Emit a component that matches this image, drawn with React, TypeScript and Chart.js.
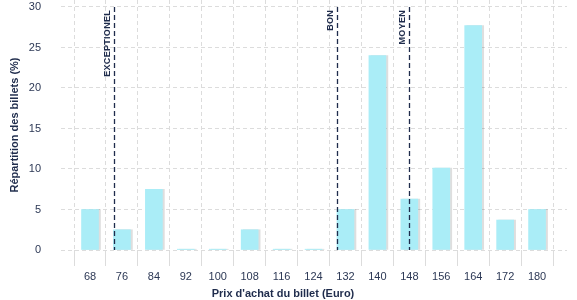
import React, { useEffect, useRef } from "react";
import { Chart, registerables } from "chart.js";

Chart.register(...registerables);

const prices = [68, 76, 84, 92, 100, 108, 116, 124, 132, 140, 148, 156, 164, 172, 180];
const shares = [5.0, 2.5, 7.5, 0.1, 0.1, 2.5, 0.1, 0.1, 5.0, 24.0, 6.3, 10.1, 27.7, 3.7, 5.0];
const xTicks = [68, 76, 84, 92, 100, 108, 116, 124, 132, 140, 148, 156, 164, 172, 180];
const yTicks = [0, 5, 10, 15, 20, 25, 30];
const refValues = [74, 130, 148];
const refLabels = ["EXCEPTIONEL", "BON", "MOYEN"];
const xTitle = "Prix d'achat du billet (Euro)";
const yTitle = "Répartition des billets (%)";

const NAVY = "#1f2c4c";
const TICK = "#2c3855";
const GRID = "#dcdcdc";
const BAR = "#aaedf7";
const FONT = "'Liberation Sans', Arial, sans-serif";

export default function App() {
  const ref = useRef<HTMLCanvasElement | null>(null);

  useEffect(() => {
    document.body.style.margin = "0";
    const canvas = ref.current!;

    const shadowPlugin = {
      id: "barShadow",
      beforeDatasetDraw(chart: any) {
        const ctx = chart.ctx;
        ctx.save();
        ctx.shadowColor = "rgba(0,0,0,0.13)";
        ctx.shadowOffsetX = 2;
        ctx.shadowOffsetY = 0;
        ctx.shadowBlur = 0;
      },
      afterDatasetDraw(chart: any) {
        chart.ctx.restore();
      },
    };

    const refPlugin = {
      id: "refLines",
      afterDatasetsDraw(chart: any) {
        const ctx = chart.ctx;
        const x = chart.scales.x;
        const y = chart.scales.y;
        const top = y.getPixelForValue(30);
        const bottom = y.getPixelForValue(0);
        refValues.forEach((v, i) => {
          const px = Math.round(x.getPixelForValue(v)) + 0.5;
          ctx.save();
          ctx.strokeStyle = NAVY;
          ctx.lineWidth = 1.3;
          ctx.setLineDash([5, 3]);
          ctx.beginPath();
          ctx.moveTo(px, top);
          ctx.lineTo(px, bottom);
          ctx.stroke();
          ctx.restore();

          ctx.save();
          ctx.translate(px - 7, top + 3);
          ctx.rotate(-Math.PI / 2);
          ctx.fillStyle = NAVY;
          ctx.font = `bold 9px ${FONT}`;
          (ctx as any).letterSpacing = "0.3px";
          ctx.textAlign = "right";
          ctx.textBaseline = "middle";
          ctx.fillText(refLabels[i], 0, 0);
          ctx.restore();
        });
      },
      afterDraw(chart: any) {
        const ctx = chart.ctx;
        ctx.save();
        ctx.fillStyle = NAVY;
        ctx.font = `bold 11px ${FONT}`;
        ctx.textAlign = "center";
        ctx.textBaseline = "middle";
        ctx.fillText(xTitle, 283, 294);
        ctx.translate(15, 125);
        ctx.rotate(-Math.PI / 2);
        ctx.fillText(yTitle, 0, 0);
        ctx.restore();
      },
    };

    const chart = new Chart(canvas, {
      type: "bar",
      data: {
        datasets: [
          {
            data: prices.map((p, i) => ({ x: p, y: shares[i] })),
            backgroundColor: BAR,
            borderWidth: 0,
            barThickness: 17,
          },
        ],
      },
      options: {
        animation: false,
        responsive: false,
        maintainAspectRatio: false,
        layout: { autoPadding: false, padding: { top: 0, right: 10, bottom: 0, left: 0 } },
        plugins: {
          legend: { display: false },
          tooltip: { enabled: false },
        },
        scales: {
          x: {
            type: "linear",
            min: 60.73,
            max: 187.5,
            offset: false,
            afterBuildTicks: (s: any) => {
              s.ticks = xTicks.map((v) => ({ value: v }));
            },
            afterFit: (s: any) => {
              s.height = 50;
              s.paddingLeft = 0;
              s.paddingRight = 0;
            },
            grid: {
              color: GRID,
              lineWidth: 1,
              drawTicks: true,
              tickLength: 16,
              tickColor: GRID,
            },
            border: { display: false, dash: [4, 3] },
            ticks: {
              color: TICK,
              font: { family: FONT, size: 11 },
              padding: 4,
              maxRotation: 0,
              autoSkip: false,
            },
          },
          y: {
            min: 0,
            max: 30.86,
            afterBuildTicks: (s: any) => {
              s.ticks = yTicks.map((v) => ({ value: v }));
            },
            afterFit: (s: any) => {
              s.width = 61;
              s.paddingTop = 0;
              s.paddingBottom = 0;
            },
            grid: {
              color: GRID,
              lineWidth: 1,
              drawTicks: false,
            },
            border: { display: false, dash: [4, 3] },
            ticks: {
              color: TICK,
              font: { family: FONT, size: 11 },
              padding: 20,
            },
          },
        },
      },
      plugins: [shadowPlugin, refPlugin],
    } as any);

    return () => chart.destroy();
  }, []);

  return (
    <div style={{ width: 577, height: 300 }}>
      <canvas ref={ref} width={577} height={300} style={{ display: "block" }} />
    </div>
  );
}
